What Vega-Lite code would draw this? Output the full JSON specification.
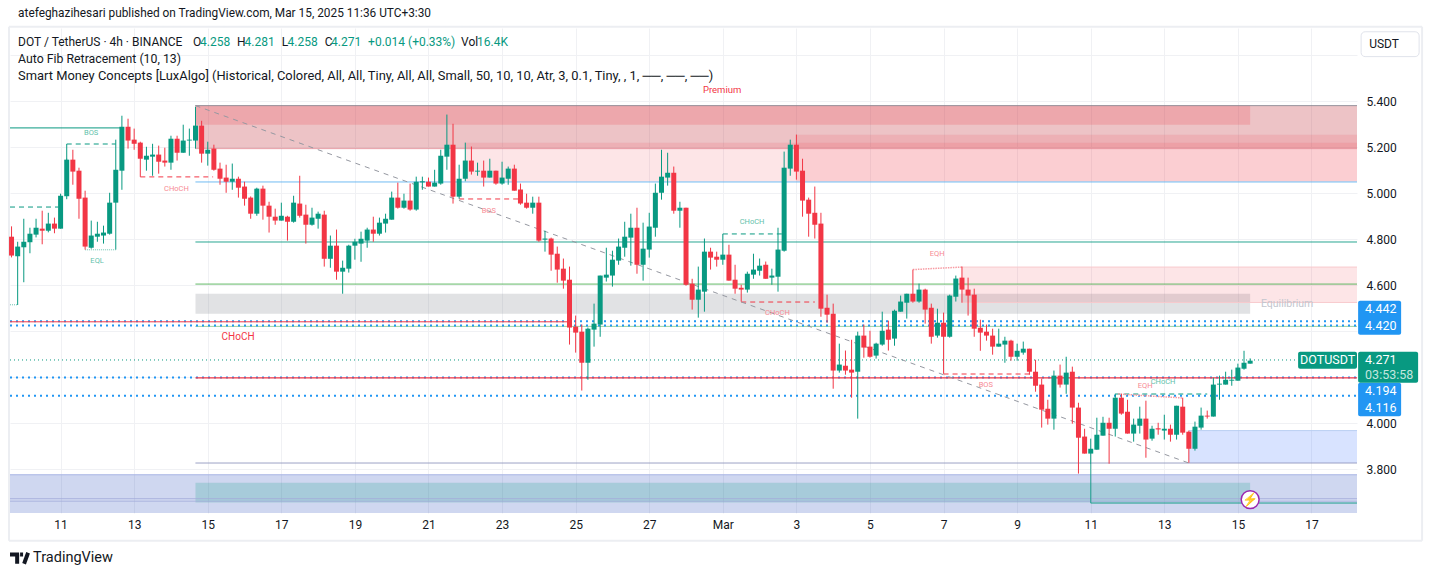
{"$schema":"https://vega.github.io/schema/vega-lite/v6.json","width":1347,"height":485,"autosize":{"type":"none"},"padding":{"left":10,"top":28,"right":76,"bottom":63},"background":"#ffffff","config":{"view":{"stroke":null},"font":"Roboto"},
"datasets":{
"candles":[
{"t":"2025-02-09T16:00Z","o":4.810,"h":4.855,"l":4.720,"c":4.728},{"t":"2025-02-09T20:00Z","o":4.725,"h":4.788,"l":4.513,"c":4.767},
{"t":"2025-02-10T00:00Z","o":4.764,"h":4.888,"l":4.612,"c":4.788},{"t":"2025-02-10T04:00Z","o":4.786,"h":4.849,"l":4.738,"c":4.823},{"t":"2025-02-10T08:00Z","o":4.819,"h":4.888,"l":4.807,"c":4.849},{"t":"2025-02-10T12:00Z","o":4.845,"h":4.923,"l":4.777,"c":4.836},{"t":"2025-02-10T16:00Z","o":4.836,"h":4.914,"l":4.829,"c":4.867},{"t":"2025-02-10T20:00Z","o":4.867,"h":4.893,"l":4.825,"c":4.845},
{"t":"2025-02-11T00:00Z","o":4.845,"h":4.997,"l":4.845,"c":4.988},{"t":"2025-02-11T04:00Z","o":4.986,"h":5.149,"l":4.973,"c":5.145},{"t":"2025-02-11T08:00Z","o":5.145,"h":5.188,"l":5.036,"c":5.093},{"t":"2025-02-11T12:00Z","o":5.097,"h":5.110,"l":4.888,"c":4.975},{"t":"2025-02-11T16:00Z","o":4.980,"h":5.010,"l":4.754,"c":4.767},{"t":"2025-02-11T20:00Z","o":4.762,"h":4.880,"l":4.758,"c":4.815},
{"t":"2025-02-12T00:00Z","o":4.810,"h":4.875,"l":4.788,"c":4.823},{"t":"2025-02-12T04:00Z","o":4.815,"h":4.858,"l":4.780,"c":4.828},{"t":"2025-02-12T08:00Z","o":4.823,"h":5.001,"l":4.819,"c":4.958},{"t":"2025-02-12T12:00Z","o":4.958,"h":5.232,"l":4.754,"c":5.101},{"t":"2025-02-12T16:00Z","o":5.097,"h":5.336,"l":5.014,"c":5.288},{"t":"2025-02-12T20:00Z","o":5.288,"h":5.323,"l":5.193,"c":5.228},
{"t":"2025-02-13T00:00Z","o":5.232,"h":5.280,"l":5.188,"c":5.214},{"t":"2025-02-13T04:00Z","o":5.219,"h":5.223,"l":5.070,"c":5.149},{"t":"2025-02-13T08:00Z","o":5.145,"h":5.201,"l":5.097,"c":5.162},{"t":"2025-02-13T12:00Z","o":5.158,"h":5.214,"l":5.075,"c":5.167},{"t":"2025-02-13T16:00Z","o":5.167,"h":5.206,"l":5.084,"c":5.136},{"t":"2025-02-13T20:00Z","o":5.141,"h":5.197,"l":5.115,"c":5.132},
{"t":"2025-02-14T00:00Z","o":5.132,"h":5.249,"l":5.101,"c":5.236},{"t":"2025-02-14T04:00Z","o":5.236,"h":5.249,"l":5.141,"c":5.175},{"t":"2025-02-14T08:00Z","o":5.175,"h":5.297,"l":5.175,"c":5.228},{"t":"2025-02-14T12:00Z","o":5.228,"h":5.280,"l":5.162,"c":5.232},{"t":"2025-02-14T16:00Z","o":5.228,"h":5.375,"l":5.193,"c":5.293},{"t":"2025-02-14T20:00Z","o":5.293,"h":5.314,"l":5.132,"c":5.171},
{"t":"2025-02-15T00:00Z","o":5.171,"h":5.223,"l":5.119,"c":5.188},{"t":"2025-02-15T04:00Z","o":5.193,"h":5.210,"l":5.097,"c":5.101},{"t":"2025-02-15T08:00Z","o":5.106,"h":5.132,"l":5.036,"c":5.062},{"t":"2025-02-15T12:00Z","o":5.067,"h":5.123,"l":5.001,"c":5.049},{"t":"2025-02-15T16:00Z","o":5.049,"h":5.128,"l":5.014,"c":5.062},{"t":"2025-02-15T20:00Z","o":5.062,"h":5.071,"l":4.980,"c":5.023},
{"t":"2025-02-16T00:00Z","o":5.028,"h":5.049,"l":4.945,"c":4.975},{"t":"2025-02-16T04:00Z","o":4.980,"h":4.985,"l":4.888,"c":4.910},{"t":"2025-02-16T08:00Z","o":4.910,"h":5.023,"l":4.901,"c":5.019},{"t":"2025-02-16T12:00Z","o":5.019,"h":5.032,"l":4.884,"c":4.945},{"t":"2025-02-16T16:00Z","o":4.945,"h":4.962,"l":4.828,"c":4.897},{"t":"2025-02-16T20:00Z","o":4.897,"h":4.932,"l":4.862,"c":4.880},
{"t":"2025-02-17T00:00Z","o":4.880,"h":4.958,"l":4.880,"c":4.901},{"t":"2025-02-17T04:00Z","o":4.897,"h":4.901,"l":4.793,"c":4.875},{"t":"2025-02-17T08:00Z","o":4.875,"h":4.988,"l":4.871,"c":4.958},{"t":"2025-02-17T12:00Z","o":4.954,"h":5.075,"l":4.893,"c":4.901},{"t":"2025-02-17T16:00Z","o":4.906,"h":4.949,"l":4.780,"c":4.862},{"t":"2025-02-17T20:00Z","o":4.862,"h":4.936,"l":4.858,"c":4.893},
{"t":"2025-02-18T00:00Z","o":4.888,"h":4.919,"l":4.845,"c":4.910},{"t":"2025-02-18T04:00Z","o":4.906,"h":4.923,"l":4.680,"c":4.714},{"t":"2025-02-18T08:00Z","o":4.714,"h":4.815,"l":4.675,"c":4.771},{"t":"2025-02-18T12:00Z","o":4.771,"h":4.841,"l":4.623,"c":4.658},{"t":"2025-02-18T16:00Z","o":4.658,"h":4.706,"l":4.562,"c":4.675},{"t":"2025-02-18T20:00Z","o":4.671,"h":4.775,"l":4.654,"c":4.771},
{"t":"2025-02-19T00:00Z","o":4.771,"h":4.801,"l":4.710,"c":4.788},{"t":"2025-02-19T04:00Z","o":4.780,"h":4.832,"l":4.701,"c":4.801},{"t":"2025-02-19T08:00Z","o":4.793,"h":4.849,"l":4.762,"c":4.841},{"t":"2025-02-19T12:00Z","o":4.841,"h":4.897,"l":4.788,"c":4.823},{"t":"2025-02-19T16:00Z","o":4.823,"h":4.893,"l":4.815,"c":4.871},{"t":"2025-02-19T20:00Z","o":4.867,"h":4.910,"l":4.828,"c":4.888},
{"t":"2025-02-20T00:00Z","o":4.884,"h":5.006,"l":4.884,"c":4.980},{"t":"2025-02-20T04:00Z","o":4.980,"h":5.045,"l":4.932,"c":4.936},{"t":"2025-02-20T08:00Z","o":4.936,"h":4.997,"l":4.932,"c":4.967},{"t":"2025-02-20T12:00Z","o":4.967,"h":5.041,"l":4.923,"c":4.928},{"t":"2025-02-20T16:00Z","o":4.928,"h":5.071,"l":4.923,"c":5.049},{"t":"2025-02-20T20:00Z","o":5.046,"h":5.071,"l":5.014,"c":5.051},
{"t":"2025-02-21T00:00Z","o":5.049,"h":5.067,"l":5.028,"c":5.028},{"t":"2025-02-21T04:00Z","o":5.028,"h":5.101,"l":5.028,"c":5.045},{"t":"2025-02-21T08:00Z","o":5.041,"h":5.188,"l":5.036,"c":5.162},{"t":"2025-02-21T12:00Z","o":5.158,"h":5.341,"l":5.101,"c":5.210},{"t":"2025-02-21T16:00Z","o":5.210,"h":5.301,"l":4.954,"c":4.984},{"t":"2025-02-21T20:00Z","o":4.984,"h":5.123,"l":4.975,"c":5.062},
{"t":"2025-02-22T00:00Z","o":5.062,"h":5.219,"l":5.051,"c":5.141},{"t":"2025-02-22T04:00Z","o":5.141,"h":5.202,"l":5.080,"c":5.093},{"t":"2025-02-22T08:00Z","o":5.093,"h":5.132,"l":5.075,"c":5.097},{"t":"2025-02-22T12:00Z","o":5.097,"h":5.141,"l":5.028,"c":5.067},{"t":"2025-02-22T16:00Z","o":5.067,"h":5.149,"l":5.067,"c":5.097},{"t":"2025-02-22T20:00Z","o":5.097,"h":5.097,"l":5.036,"c":5.041},
{"t":"2025-02-23T00:00Z","o":5.041,"h":5.136,"l":5.036,"c":5.067},{"t":"2025-02-23T04:00Z","o":5.062,"h":5.115,"l":5.036,"c":5.106},{"t":"2025-02-23T08:00Z","o":5.106,"h":5.123,"l":5.010,"c":5.010},{"t":"2025-02-23T12:00Z","o":5.015,"h":5.041,"l":4.949,"c":4.954},{"t":"2025-02-23T16:00Z","o":4.958,"h":4.997,"l":4.932,"c":4.936},{"t":"2025-02-23T20:00Z","o":4.936,"h":4.984,"l":4.910,"c":4.958},
{"t":"2025-02-24T00:00Z","o":4.958,"h":4.984,"l":4.788,"c":4.793},{"t":"2025-02-24T04:00Z","o":4.797,"h":4.836,"l":4.745,"c":4.802},{"t":"2025-02-24T08:00Z","o":4.802,"h":4.806,"l":4.662,"c":4.732},{"t":"2025-02-24T12:00Z","o":4.736,"h":4.767,"l":4.610,"c":4.667},{"t":"2025-02-24T16:00Z","o":4.671,"h":4.715,"l":4.584,"c":4.619},{"t":"2025-02-24T20:00Z","o":4.623,"h":4.680,"l":4.341,"c":4.415},
{"t":"2025-02-25T00:00Z","o":4.419,"h":4.467,"l":4.306,"c":4.393},{"t":"2025-02-25T04:00Z","o":4.397,"h":4.428,"l":4.141,"c":4.262},{"t":"2025-02-25T08:00Z","o":4.262,"h":4.415,"l":4.188,"c":4.410},{"t":"2025-02-25T12:00Z","o":4.406,"h":4.519,"l":4.332,"c":4.432},{"t":"2025-02-25T16:00Z","o":4.428,"h":4.641,"l":4.375,"c":4.641},{"t":"2025-02-25T20:00Z","o":4.632,"h":4.762,"l":4.615,"c":4.645},
{"t":"2025-02-26T00:00Z","o":4.641,"h":4.749,"l":4.593,"c":4.710},{"t":"2025-02-26T04:00Z","o":4.706,"h":4.802,"l":4.688,"c":4.767},{"t":"2025-02-26T08:00Z","o":4.762,"h":4.875,"l":4.723,"c":4.810},{"t":"2025-02-26T12:00Z","o":4.806,"h":4.910,"l":4.684,"c":4.849},{"t":"2025-02-26T16:00Z","o":4.849,"h":4.936,"l":4.649,"c":4.688},{"t":"2025-02-26T20:00Z","o":4.688,"h":4.871,"l":4.619,"c":4.758},
{"t":"2025-02-27T00:00Z","o":4.754,"h":4.914,"l":4.719,"c":4.854},{"t":"2025-02-27T04:00Z","o":4.849,"h":5.041,"l":4.810,"c":5.001},{"t":"2025-02-27T08:00Z","o":5.001,"h":5.188,"l":4.971,"c":5.071},{"t":"2025-02-27T12:00Z","o":5.067,"h":5.175,"l":5.032,"c":5.088},{"t":"2025-02-27T16:00Z","o":5.088,"h":5.115,"l":4.910,"c":4.923},{"t":"2025-02-27T20:00Z","o":4.923,"h":4.962,"l":4.849,"c":4.936},
{"t":"2025-02-28T00:00Z","o":4.936,"h":4.936,"l":4.597,"c":4.601},{"t":"2025-02-28T04:00Z","o":4.606,"h":4.627,"l":4.493,"c":4.536},{"t":"2025-02-28T08:00Z","o":4.536,"h":4.680,"l":4.458,"c":4.580},{"t":"2025-02-28T12:00Z","o":4.571,"h":4.802,"l":4.484,"c":4.745},{"t":"2025-02-28T16:00Z","o":4.745,"h":4.762,"l":4.667,"c":4.719},{"t":"2025-02-28T20:00Z","o":4.723,"h":4.745,"l":4.680,"c":4.710},
{"t":"2025-03-01T00:00Z","o":4.710,"h":4.822,"l":4.688,"c":4.732},{"t":"2025-03-01T04:00Z","o":4.732,"h":4.775,"l":4.619,"c":4.619},{"t":"2025-03-01T08:00Z","o":4.623,"h":4.688,"l":4.562,"c":4.584},{"t":"2025-03-01T12:00Z","o":4.588,"h":4.601,"l":4.528,"c":4.580},{"t":"2025-03-01T16:00Z","o":4.580,"h":4.658,"l":4.567,"c":4.649},{"t":"2025-03-01T20:00Z","o":4.645,"h":4.736,"l":4.627,"c":4.667},
{"t":"2025-03-02T00:00Z","o":4.662,"h":4.715,"l":4.641,"c":4.684},{"t":"2025-03-02T04:00Z","o":4.688,"h":4.702,"l":4.627,"c":4.627},{"t":"2025-03-02T08:00Z","o":4.632,"h":4.671,"l":4.601,"c":4.641},{"t":"2025-03-02T12:00Z","o":4.636,"h":4.849,"l":4.571,"c":4.754},{"t":"2025-03-02T16:00Z","o":4.749,"h":5.180,"l":4.745,"c":5.110},{"t":"2025-03-02T20:00Z","o":5.106,"h":5.232,"l":5.075,"c":5.210},
{"t":"2025-03-03T00:00Z","o":5.210,"h":5.254,"l":5.058,"c":5.093},{"t":"2025-03-03T04:00Z","o":5.097,"h":5.149,"l":4.897,"c":4.967},{"t":"2025-03-03T08:00Z","o":4.971,"h":4.980,"l":4.810,"c":4.910},{"t":"2025-03-03T12:00Z","o":4.914,"h":5.028,"l":4.802,"c":4.862},{"t":"2025-03-03T16:00Z","o":4.867,"h":4.914,"l":4.462,"c":4.497},{"t":"2025-03-03T20:00Z","o":4.501,"h":4.558,"l":4.436,"c":4.471},
{"t":"2025-03-04T00:00Z","o":4.475,"h":4.519,"l":4.149,"c":4.228},{"t":"2025-03-04T04:00Z","o":4.228,"h":4.345,"l":4.219,"c":4.254},{"t":"2025-03-04T08:00Z","o":4.249,"h":4.315,"l":4.210,"c":4.228},{"t":"2025-03-04T12:00Z","o":4.232,"h":4.362,"l":4.110,"c":4.219},{"t":"2025-03-04T16:00Z","o":4.223,"h":4.397,"l":4.019,"c":4.380},{"t":"2025-03-04T20:00Z","o":4.380,"h":4.428,"l":4.284,"c":4.328},
{"t":"2025-03-05T00:00Z","o":4.332,"h":4.401,"l":4.284,"c":4.288},{"t":"2025-03-05T04:00Z","o":4.293,"h":4.349,"l":4.280,"c":4.345},{"t":"2025-03-05T08:00Z","o":4.341,"h":4.484,"l":4.336,"c":4.401},{"t":"2025-03-05T12:00Z","o":4.406,"h":4.445,"l":4.315,"c":4.362},{"t":"2025-03-05T16:00Z","o":4.367,"h":4.493,"l":4.336,"c":4.488},{"t":"2025-03-05T20:00Z","o":4.484,"h":4.554,"l":4.484,"c":4.528},
{"t":"2025-03-06T00:00Z","o":4.523,"h":4.562,"l":4.454,"c":4.562},{"t":"2025-03-06T04:00Z","o":4.562,"h":4.667,"l":4.523,"c":4.528},{"t":"2025-03-06T08:00Z","o":4.528,"h":4.606,"l":4.523,"c":4.580},{"t":"2025-03-06T12:00Z","o":4.580,"h":4.584,"l":4.432,"c":4.493},{"t":"2025-03-06T16:00Z","o":4.501,"h":4.519,"l":4.345,"c":4.375},{"t":"2025-03-06T20:00Z","o":4.380,"h":4.497,"l":4.371,"c":4.436},
{"t":"2025-03-07T00:00Z","o":4.436,"h":4.480,"l":4.214,"c":4.375},{"t":"2025-03-07T04:00Z","o":4.375,"h":4.558,"l":4.371,"c":4.554},{"t":"2025-03-07T08:00Z","o":4.549,"h":4.641,"l":4.528,"c":4.628},{"t":"2025-03-07T12:00Z","o":4.632,"h":4.680,"l":4.523,"c":4.580},{"t":"2025-03-07T16:00Z","o":4.580,"h":4.632,"l":4.467,"c":4.554},{"t":"2025-03-07T20:00Z","o":4.558,"h":4.584,"l":4.375,"c":4.410},
{"t":"2025-03-08T00:00Z","o":4.414,"h":4.449,"l":4.314,"c":4.393},{"t":"2025-03-08T04:00Z","o":4.397,"h":4.428,"l":4.358,"c":4.380},{"t":"2025-03-08T08:00Z","o":4.380,"h":4.410,"l":4.297,"c":4.332},{"t":"2025-03-08T12:00Z","o":4.332,"h":4.410,"l":4.332,"c":4.345},{"t":"2025-03-08T16:00Z","o":4.341,"h":4.375,"l":4.262,"c":4.358},{"t":"2025-03-08T20:00Z","o":4.358,"h":4.362,"l":4.271,"c":4.288},
{"t":"2025-03-09T00:00Z","o":4.288,"h":4.345,"l":4.271,"c":4.314},{"t":"2025-03-09T04:00Z","o":4.306,"h":4.354,"l":4.297,"c":4.323},{"t":"2025-03-09T08:00Z","o":4.323,"h":4.323,"l":4.210,"c":4.223},{"t":"2025-03-09T12:00Z","o":4.223,"h":4.275,"l":4.136,"c":4.162},{"t":"2025-03-09T16:00Z","o":4.167,"h":4.193,"l":3.980,"c":4.058},{"t":"2025-03-09T20:00Z","o":4.062,"h":4.101,"l":3.993,"c":4.019},
{"t":"2025-03-10T00:00Z","o":4.019,"h":4.228,"l":3.971,"c":4.206},{"t":"2025-03-10T04:00Z","o":4.206,"h":4.254,"l":4.154,"c":4.167},{"t":"2025-03-10T08:00Z","o":4.167,"h":4.288,"l":4.127,"c":4.219},{"t":"2025-03-10T12:00Z","o":4.223,"h":4.245,"l":3.997,"c":4.067},{"t":"2025-03-10T16:00Z","o":4.067,"h":4.088,"l":3.780,"c":3.936},{"t":"2025-03-10T20:00Z","o":3.941,"h":3.975,"l":3.867,"c":3.867},
{"t":"2025-03-11T00:00Z","o":3.867,"h":3.932,"l":3.820,"c":3.888},{"t":"2025-03-11T04:00Z","o":3.884,"h":4.023,"l":3.884,"c":3.949},{"t":"2025-03-11T08:00Z","o":3.945,"h":4.027,"l":3.945,"c":4.001},{"t":"2025-03-11T12:00Z","o":4.001,"h":4.023,"l":3.823,"c":3.975},{"t":"2025-03-11T16:00Z","o":3.975,"h":4.127,"l":3.941,"c":4.110},{"t":"2025-03-11T20:00Z","o":4.110,"h":4.127,"l":4.036,"c":4.041},
{"t":"2025-03-12T00:00Z","o":4.049,"h":4.101,"l":3.954,"c":3.954},{"t":"2025-03-12T04:00Z","o":3.954,"h":4.019,"l":3.919,"c":3.993},{"t":"2025-03-12T08:00Z","o":3.988,"h":4.071,"l":3.954,"c":4.019},{"t":"2025-03-12T12:00Z","o":4.019,"h":4.097,"l":3.849,"c":3.928},{"t":"2025-03-12T16:00Z","o":3.932,"h":3.988,"l":3.923,"c":3.975},{"t":"2025-03-12T20:00Z","o":3.977,"h":4.001,"l":3.949,"c":3.972},
{"t":"2025-03-13T00:00Z","o":3.967,"h":4.036,"l":3.928,"c":3.975},{"t":"2025-03-13T04:00Z","o":3.975,"h":3.993,"l":3.919,"c":3.949},{"t":"2025-03-13T08:00Z","o":3.949,"h":4.075,"l":3.928,"c":4.075},{"t":"2025-03-13T12:00Z","o":4.071,"h":4.110,"l":3.949,"c":3.958},{"t":"2025-03-13T16:00Z","o":3.962,"h":3.967,"l":3.827,"c":3.888},{"t":"2025-03-13T20:00Z","o":3.888,"h":4.006,"l":3.880,"c":3.984},
{"t":"2025-03-14T00:00Z","o":3.980,"h":4.067,"l":3.971,"c":4.032},{"t":"2025-03-14T04:00Z","o":4.032,"h":4.054,"l":4.019,"c":4.028},{"t":"2025-03-14T08:00Z","o":4.028,"h":4.197,"l":4.028,"c":4.167},{"t":"2025-03-14T12:00Z","o":4.167,"h":4.206,"l":4.101,"c":4.171},{"t":"2025-03-14T16:00Z","o":4.167,"h":4.223,"l":4.167,"c":4.188},{"t":"2025-03-14T20:00Z","o":4.184,"h":4.232,"l":4.162,"c":4.188},
{"t":"2025-03-15T00:00Z","o":4.184,"h":4.258,"l":4.184,"c":4.241},{"t":"2025-03-15T04:00Z","o":4.236,"h":4.314,"l":4.232,"c":4.262},{"t":"2025-03-15T08:00Z","o":4.258,"h":4.281,"l":4.258,"c":4.271}
],
"zones":[
{"kind":"band","t":"2025-02-09T15:00Z","t2":"2025-03-18T05:42Z","y":3.775,"y2":3.6087},
{"kind":"teal","t":"2025-02-14T16:00Z","t2":"2025-03-15T08:00Z","y":3.74,"y2":3.654},
{"kind":"demand","t":"2025-03-13T16:00Z","t2":"2025-03-18T05:42Z","y":3.967,"y2":3.826},
{"kind":"equil","t":"2025-02-14T16:00Z","t2":"2025-03-15T08:00Z","y":4.562,"y2":4.475},
{"kind":"pink","t":"2025-03-07T12:00Z","t2":"2025-03-18T05:42Z","y":4.678,"y2":4.524},
{"kind":"prem","t":"2025-02-14T16:00Z","t2":"2025-03-18T05:42Z","y":5.38,"y2":5.193},
{"kind":"prem2","t":"2025-02-14T16:00Z","t2":"2025-03-15T08:00Z","y":5.38,"y2":5.297},
{"kind":"pink","t":"2025-02-22T00:00Z","t2":"2025-03-18T05:42Z","y":5.219,"y2":5.05},
{"kind":"pink2","t":"2025-03-03T00:00Z","t2":"2025-03-18T05:42Z","y":5.253,"y2":5.05}
],
"segments":[
{"kind":"frame","t":"2025-02-09T14:20Z","t2":"2025-03-20T00:10Z","y":5.723,"y2":5.723},
{"kind":"frame","t":"2025-02-09T14:20Z","t2":"2025-03-20T00:10Z","y":3.488,"y2":3.488},
{"kind":"frame","t":"2025-02-09T14:20Z","t2":"2025-02-09T14:20Z","y":5.723,"y2":3.488},
{"kind":"frame","t":"2025-03-20T00:10Z","t2":"2025-03-20T00:10Z","y":5.723,"y2":3.488},
{"kind":"grey","t":"2025-02-14T16:00Z","t2":"2025-03-18T05:42Z","y":5.38,"y2":5.38},
{"kind":"prem","t":"2025-02-14T16:00Z","t2":"2025-03-18T05:42Z","y":5.193,"y2":5.193},
{"kind":"sky","t":"2025-02-14T16:00Z","t2":"2025-03-18T05:42Z","y":5.048,"y2":5.048},
{"kind":"teal","t":"2025-02-14T16:00Z","t2":"2025-03-18T05:42Z","y":4.787,"y2":4.787},
{"kind":"green","t":"2025-02-14T16:00Z","t2":"2025-03-18T05:42Z","y":4.604,"y2":4.604},
{"kind":"lgreen","t":"2025-02-14T16:00Z","t2":"2025-03-18T05:42Z","y":4.42,"y2":4.42},
{"kind":"dot","t":"2025-02-09T15:00Z","t2":"2025-03-18T05:42Z","y":4.442,"y2":4.442},
{"kind":"dot","t":"2025-02-09T15:00Z","t2":"2025-03-18T05:42Z","y":4.424,"y2":4.424},
{"kind":"dot","t":"2025-02-09T15:00Z","t2":"2025-03-18T05:42Z","y":4.198,"y2":4.198},
{"kind":"dot","t":"2025-02-09T15:00Z","t2":"2025-03-18T05:42Z","y":4.118,"y2":4.118},
{"kind":"redthin","t":"2025-02-09T15:00Z","t2":"2025-02-24T19:00Z","y":4.44,"y2":4.44},
{"kind":"red","t":"2025-02-14T16:00Z","t2":"2025-03-18T05:42Z","y":4.196,"y2":4.196},
{"kind":"price","t":"2025-02-09T15:00Z","t2":"2025-03-16T15:17Z","y":4.274,"y2":4.274},
{"kind":"purple","t":"2025-02-14T16:00Z","t2":"2025-03-18T05:42Z","y":3.826,"y2":3.826},
{"kind":"bandline","t":"2025-02-09T15:00Z","t2":"2025-03-18T05:42Z","y":3.775,"y2":3.775},
{"kind":"thin","t":"2025-02-09T15:00Z","t2":"2025-03-18T05:42Z","y":3.671,"y2":3.671},
{"kind":"thin","t":"2025-02-09T15:00Z","t2":"2025-03-18T05:42Z","y":3.66,"y2":3.66},
{"kind":"demandline","t":"2025-03-13T16:00Z","t2":"2025-03-18T05:42Z","y":3.967,"y2":3.967},
{"kind":"pinkline","t":"2025-03-07T12:00Z","t2":"2025-03-18T05:42Z","y":4.678,"y2":4.678},
{"kind":"pinkline","t":"2025-03-07T12:00Z","t2":"2025-03-18T05:42Z","y":4.524,"y2":4.524},
{"kind":"teal","t":"2025-03-11T00:00Z","t2":"2025-03-11T00:00Z","y":3.82,"y2":3.652},
{"kind":"teal","t":"2025-03-11T00:00Z","t2":"2025-03-18T05:42Z","y":3.652,"y2":3.652},
{"kind":"teal","t":"2025-02-09T15:00Z","t2":"2025-02-12T16:00Z","y":5.283,"y2":5.283},
{"kind":"dashg","t":"2025-02-09T15:00Z","t2":"2025-02-10T22:30Z","y":4.939,"y2":4.939},
{"kind":"dashg","t":"2025-02-11T04:00Z","t2":"2025-02-12T12:00Z","y":5.213,"y2":5.213},
{"kind":"solidg","t":"2025-02-11T04:00Z","t2":"2025-02-11T04:00Z","y":5.213,"y2":5.145},
{"kind":"dashg","t":"2025-03-01T00:00Z","t2":"2025-03-02T16:00Z","y":4.822,"y2":4.822},
{"kind":"dashg","t":"2025-03-11T16:00Z","t2":"2025-03-14T04:00Z","y":4.126,"y2":4.126},
{"kind":"dotg","t":"2025-02-11T16:00Z","t2":"2025-02-12T12:00Z","y":4.753,"y2":4.753},
{"kind":"dotg","t":"2025-02-09T15:00Z","t2":"2025-02-09T20:00Z","y":4.514,"y2":4.514},
{"kind":"dashr","t":"2025-02-13T04:00Z","t2":"2025-02-15T03:30Z","y":5.07,"y2":5.07},
{"kind":"dashr","t":"2025-02-21T20:00Z","t2":"2025-02-23T11:00Z","y":4.974,"y2":4.974},
{"kind":"dashr","t":"2025-03-01T12:00Z","t2":"2025-03-03T12:00Z","y":4.526,"y2":4.526},
{"kind":"dashr","t":"2025-03-07T00:00Z","t2":"2025-03-09T10:00Z","y":4.213,"y2":4.213},
{"kind":"dotr","t":"2025-03-06T04:00Z","t2":"2025-03-07T12:00Z","y":4.667,"y2":4.678},
{"kind":"dotr","t":"2025-03-11T17:51Z","t2":"2025-03-13T12:00Z","y":4.126,"y2":4.109},
{"kind":"trend","t":"2025-02-14T16:00Z","t2":"2025-03-13T16:00Z","y":5.38,"y2":3.826},
{"kind":"logo","t":"2025-02-09T15:00Z","t2":"2025-02-09T20:56Z","y":3.428,"y2":3.428},
{"kind":"logo","t":"2025-02-09T19:40Z","t2":"2025-02-09T19:40Z","y":3.428,"y2":3.388},
{"kind":"logo","t":"2025-02-10T02:48Z","t2":"2025-02-10T00:11Z","y":3.436,"y2":3.388},
{"kind":"logo","t":"2025-02-09T21:35Z","t2":"2025-02-09T23:32Z","y":3.428,"y2":3.428}
],
"tags":[
{"kind":"blue","t":"2025-03-18T06:26Z","t2":"2025-03-19T10:29Z","y":4.532,"y2":4.384},
{"kind":"blue","t":"2025-03-18T06:26Z","t2":"2025-03-19T10:29Z","y":4.175,"y2":4.029},
{"kind":"green","t":"2025-03-18T06:26Z","t2":"2025-03-19T21:34Z","y":4.31,"y2":4.175},
{"kind":"green","t":"2025-03-16T15:17Z","t2":"2025-03-18T05:42Z","y":4.31,"y2":4.236}
],
"button":[{"t":"2025-03-18T08:23Z","t2":"2025-03-19T22:13Z","y":5.701,"y2":5.593}],
"bolt":[{"t":"2025-03-15T08:00Z","y":3.667}],
"leftText":[
{"kind":"t","t":"2025-02-09T20:16Z","y":5.784,"label":"atefeghazihesari published on TradingView.com, Mar 15, 2025 11:36 UTC+3:30"},
{"kind":"h","t":"2025-02-09T20:16Z","y":5.658,"label":"DOT / TetherUS · 4h · BINANCE"},
{"kind":"h","t":"2025-02-14T14:26Z","y":5.658,"label":"O"},
{"kind":"g","t":"2025-02-14T19:00Z","y":5.658,"label":"4.258"},
{"kind":"h","t":"2025-02-15T19:08Z","y":5.658,"label":"H"},
{"kind":"g","t":"2025-02-16T00:02Z","y":5.658,"label":"4.281"},
{"kind":"h","t":"2025-02-17T00:18Z","y":5.658,"label":"L"},
{"kind":"g","t":"2025-02-17T04:01Z","y":5.658,"label":"4.258"},
{"kind":"h","t":"2025-02-18T04:21Z","y":5.658,"label":"C"},
{"kind":"g","t":"2025-02-18T08:28Z","y":5.658,"label":"4.271"},
{"kind":"g","t":"2025-02-19T08:36Z","y":5.658,"label":"+0.014 (+0.33%)"},
{"kind":"h","t":"2025-02-21T21:16Z","y":5.658,"label":"Vol"},
{"kind":"g","t":"2025-02-22T07:42Z","y":5.658,"label":"16.4K"},
{"kind":"a","t":"2025-02-09T20:16Z","y":5.584,"label":"Auto Fib Retracement (10, 13)"},
{"kind":"s","t":"2025-02-09T20:16Z","y":5.51,"label":"Smart Money Concepts [LuxAlgo] (Historical, Colored, All, All, Tiny, All, All, Small, 50, 10, 10, Atr, 3, 0.1, Tiny, , 1, ──, ──, ──)"},
{"kind":"tag","t":"2025-03-18T10:59Z","y":4.495,"label":"4.442"},
{"kind":"tag","t":"2025-03-18T10:59Z","y":4.421,"label":"4.420"},
{"kind":"tag","t":"2025-03-18T10:59Z","y":4.273,"label":"4.271"},
{"kind":"dim","t":"2025-03-18T10:59Z","y":4.208,"label":"03:53:58"},
{"kind":"tag","t":"2025-03-18T10:59Z","y":4.137,"label":"4.194"},
{"kind":"tag","t":"2025-03-18T10:59Z","y":4.065,"label":"4.116"},
{"kind":"brand","t":"2025-02-10T06:04Z","y":3.414,"label":"TradingView"}
],
"centerText":[
{"kind":"prem","t":"2025-02-28T23:32Z","y":5.449,"label":"Premium"},
{"kind":"sg","t":"2025-02-11T19:54Z","y":5.263,"label":"BOS"},
{"kind":"sg","t":"2025-02-11T23:49Z","y":4.703,"label":"EQL"},
{"kind":"sr","t":"2025-02-14T03:33Z","y":5.017,"label":"CHoCH"},
{"kind":"big","t":"2025-02-15T19:48Z","y":4.375,"label":"CHoCH"},
{"kind":"sr","t":"2025-02-22T15:20Z","y":4.92,"label":"BOS"},
{"kind":"sg","t":"2025-03-01T19:06Z","y":4.872,"label":"CHoCH"},
{"kind":"sr","t":"2025-03-02T11:36Z","y":4.478,"label":"CHoCH"},
{"kind":"sr","t":"2025-03-06T19:47Z","y":4.734,"label":"EQH"},
{"kind":"sr","t":"2025-03-08T03:33Z","y":4.165,"label":"BOS"},
{"kind":"sr","t":"2025-03-12T11:28Z","y":4.163,"label":"EQH"},
{"kind":"sg","t":"2025-03-12T23:13Z","y":4.178,"label":"CHoCH"},
{"kind":"eq","t":"2025-03-16T08:06Z","y":4.516,"label":"Equilibrium"},
{"kind":"tag","t":"2025-03-17T10:32Z","y":4.273,"label":"DOTUSDT"},
{"kind":"btn","t":"2025-03-18T23:23Z","y":5.649,"label":"USDT"},
{"kind":"bolt","t":"2025-03-15T08:00Z","y":3.667,"label":"⚡"}
]
},
"resolve":{"scale":{"color":"independent","size":"independent"}},
"layer":[
{"data":{"name":"zones","format":{"parse":{"t":"date","t2":"date"}}},"mark":{"type":"rect"},"encoding":{
"x":{"field":"t","type":"temporal","scale":{"type":"utc","padding":0,"domain":[1739113200000,1742276520000]},"axis":{"title":null,"domain":false,"ticks":false,"grid":true,"gridColor":"#f0f1f4","labelColor":"#131722","labelFont":"Roboto","labelFontSize":12,"labelPadding":6,"labelOverlap":false,"labelFlush":false,"values":[1739232000000,1739404800000,1739577600000,1739750400000,1739923200000,1740096000000,1740268800000,1740441600000,1740614400000,1740787200000,1740960000000,1741132800000,1741305600000,1741478400000,1741651200000,1741824000000,1741996800000,1742169600000],"labelExpr":"utcmonth(datum.value)==2&&utcdate(datum.value)==1?'Mar':''+utcdate(datum.value)"}},
"x2":{"field":"t2"},
"y":{"field":"y","type":"quantitative","scale":{"domain":[3.6087,5.7174],"nice":false,"zero":false},"axis":{"orient":"right","title":null,"domain":false,"ticks":false,"grid":true,"gridColor":"#f0f1f4","labelColor":"#131722","labelFont":"Roboto","labelFontSize":12,"labelPadding":9,"labelOverlap":false,"labelBound":false,"values":[3.8,4,4.2,4.4,4.6,4.8,5,5.2,5.4,5.6],"labelExpr":"datum.value>5.5||abs(datum.value-4.2)<0.01||abs(datum.value-4.4)<0.01?'':format(datum.value,'.3f')"}},
"y2":{"field":"y2"},
"color":{"field":"kind","type":"nominal","legend":null,"scale":{"domain":["band","teal","demand","equil","pink","pink2","prem","prem2"],"range":["#3050c0","#089981","#2962ff","#787b86","#f23645","#f23645","#c02833","#f23645"]}},
"opacity":{"field":"kind","type":"ordinal","legend":null,"scale":{"type":"ordinal","domain":["band","teal","demand","equil","pink","pink2","prem","prem2"],"range":[0.23,0.2,0.18,0.22,0.13,0.13,0.28,0.2]}}
}},
{"data":{"name":"segments","format":{"parse":{"t":"date","t2":"date"}}},"mark":{"type":"rule"},"encoding":{
"x":{"field":"t","type":"temporal","scale":{"type":"utc","padding":0,"domain":[1739113200000,1742276520000]}},
"x2":{"field":"t2"},
"y":{"field":"y","type":"quantitative","scale":{"domain":[3.6087,5.7174],"nice":false,"zero":false}},
"y2":{"field":"y2"},
"color":{"field":"kind","type":"nominal","legend":null,"scale":{"domain":["frame","grey","prem","sky","teal","green","lgreen","dot","redthin","red","price","purple","bandline","thin","demandline","pinkline","dashg","solidg","dotg","dashr","dotr","trend","logo"],"range":["#eceef2","#7f828c","#e58f98","#5bb0f0","#089981","#4caf50","#81c784","#2196f3","#f23645","#f23645","#089981","#8f94bd","#a9b5e4","#a3abdb","#b5caf0","#f8c9cd","#089981","#089981","#6fc4b3","#f23645","#f79aa2","#9598a1","#131722"]}},
"strokeWidth":{"field":"kind","type":"ordinal","legend":null,"scale":{"type":"ordinal","domain":["frame","grey","prem","sky","teal","green","lgreen","dot","redthin","red","price","purple","bandline","thin","demandline","pinkline","dashg","solidg","dotg","dashr","dotr","trend","logo"],"range":[2,1,1,1,1,1,1,2,1,1.2,1,1,1,0.8,1,1,1,1,1,1,1.5,1,4]}},
"strokeDash":{"field":"kind","type":"nominal","legend":null,"scale":{"domain":["frame","grey","prem","sky","teal","green","lgreen","dot","redthin","red","price","purple","bandline","thin","demandline","pinkline","dashg","solidg","dotg","dashr","dotr","trend","logo"],"range":[[1,0],[1,0],[1,0],[1,0],[1,0],[1,0],[1,0],[2,4],[1,0],[1,0],[1,3],[1,0],[1,0],[1,0],[1,0],[1,0],[5,4],[1,0],[1,1],[5,4],[1.5,1],[5,5],[1,0]]}}
}},
{"data":{"name":"candles"},"mark":{"type":"rule","strokeWidth":1},"encoding":{
"x":{"field":"t","type":"temporal","scale":{"type":"utc","padding":0,"domain":[1739113200000,1742276520000]}},
"y":{"field":"l","type":"quantitative","scale":{"domain":[3.6087,5.7174],"nice":false,"zero":false}},
"y2":{"field":"h"},
"color":{"condition":{"test":"datum.c>=datum.o","value":"#089981"},"value":"#f23645"}
}},
{"data":{"name":"candles"},"mark":{"type":"bar","size":5},"encoding":{
"x":{"field":"t","type":"temporal","scale":{"type":"utc","padding":0,"domain":[1739113200000,1742276520000]}},
"y":{"field":"o","type":"quantitative","scale":{"domain":[3.6087,5.7174],"nice":false,"zero":false}},
"y2":{"field":"c"},
"color":{"condition":{"test":"datum.c>=datum.o","value":"#089981"},"value":"#f23645"}
}},
{"data":{"name":"tags","format":{"parse":{"t":"date","t2":"date"}}},"mark":{"type":"rect","cornerRadius":2},"encoding":{
"x":{"field":"t","type":"temporal","scale":{"type":"utc","padding":0,"domain":[1739113200000,1742276520000]}},
"x2":{"field":"t2"},
"y":{"field":"y","type":"quantitative","scale":{"domain":[3.6087,5.7174],"nice":false,"zero":false}},
"y2":{"field":"y2"},
"color":{"field":"kind","type":"nominal","legend":null,"scale":{"domain":["blue","green"],"range":["#2196f3","#089981"]}}
}},
{"data":{"name":"button","format":{"parse":{"t":"date","t2":"date"}}},"mark":{"type":"rect","fill":"#ffffff","stroke":"#e0e3eb","cornerRadius":4},"encoding":{
"x":{"field":"t","type":"temporal","scale":{"type":"utc","padding":0,"domain":[1739113200000,1742276520000]}},
"x2":{"field":"t2"},
"y":{"field":"y","type":"quantitative","scale":{"domain":[3.6087,5.7174],"nice":false,"zero":false}},
"y2":{"field":"y2"}
}},
{"data":{"name":"bolt"},"mark":{"type":"point","filled":false,"fill":"#ffffff","fillOpacity":1,"stroke":"#9c27b0","strokeWidth":1.5,"size":320,"shape":"circle","opacity":1},"encoding":{
"x":{"field":"t","type":"temporal","scale":{"type":"utc","padding":0,"domain":[1739113200000,1742276520000]}},
"y":{"field":"y","type":"quantitative","scale":{"domain":[3.6087,5.7174],"nice":false,"zero":false}}
}},
{"data":{"name":"leftText"},"mark":{"type":"text","align":"left","baseline":"middle","font":"Roboto"},"encoding":{
"x":{"field":"t","type":"temporal","scale":{"type":"utc","padding":0,"domain":[1739113200000,1742276520000]}},
"y":{"field":"y","type":"quantitative","scale":{"domain":[3.6087,5.7174],"nice":false,"zero":false}},
"text":{"field":"label"},
"color":{"field":"kind","type":"nominal","legend":null,"scale":{"domain":["t","h","a","s","g","tag","dim","brand"],"range":["#131722","#131722","#131722","#131722","#089981","#ffffff","#c3e6df","#131722"]}},
"size":{"field":"kind","type":"ordinal","legend":null,"scale":{"type":"ordinal","domain":["t","h","a","s","g","tag","dim","brand"],"range":[11.85,12,12.3,12.9,12,12.5,12.5,14.5]}}
}},
{"data":{"name":"centerText"},"mark":{"type":"text","align":"center","baseline":"middle","font":"Roboto"},"encoding":{
"x":{"field":"t","type":"temporal","scale":{"type":"utc","padding":0,"domain":[1739113200000,1742276520000]}},
"y":{"field":"y","type":"quantitative","scale":{"domain":[3.6087,5.7174],"nice":false,"zero":false}},
"text":{"field":"label"},
"color":{"field":"kind","type":"nominal","legend":null,"scale":{"domain":["prem","sg","sr","big","eq","tag","btn","bolt"],"range":["#f23645","#5fbfab","#f78a93","#f23645","#c3c6ce","#ffffff","#131722","#9c27b0"]}},
"size":{"field":"kind","type":"ordinal","legend":null,"scale":{"type":"ordinal","domain":["prem","sg","sr","big","eq","tag","btn","bolt"],"range":[9.5,7.5,7.5,10,10.5,12.5,12,13]}}
}}
]}
